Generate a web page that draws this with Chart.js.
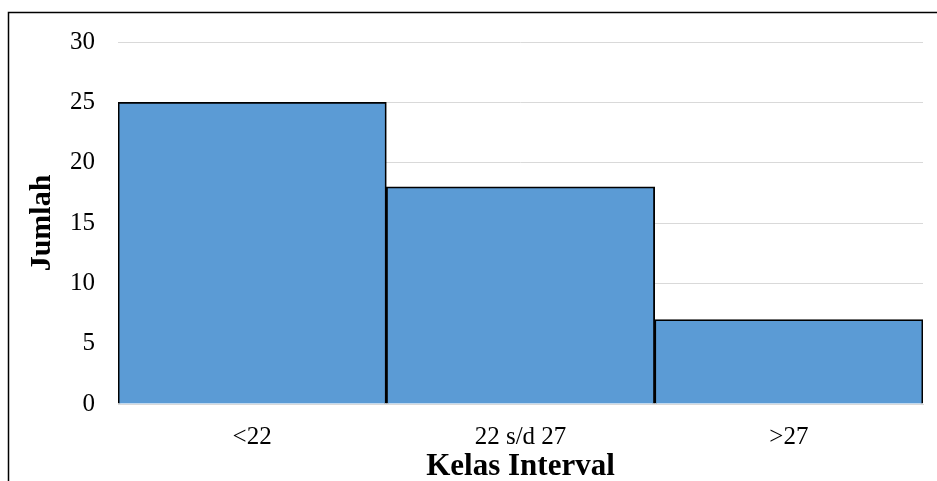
<!DOCTYPE html>
<html>
<head>
<meta charset="utf-8">
<script src="https://cdn.jsdelivr.net/npm/chart.js@4.4.0/dist/chart.umd.min.js"></script>
<style>
  html, body { margin: 0; padding: 0; background: #fff; }
  canvas { display: block; }
</style>
</head>
<body>
<canvas id="chart" width="937" height="481"></canvas>
<script>
// histogram data
const categories = ['<22', '22 s/d 27', '>27'];
const jumlah = [25, 18, 7];
const yTicks = [0, 5, 10, 15, 20, 25, 30];

const serif = '"Liberation Serif", "Times New Roman", serif';

// outer frame (only top and left edges fall inside the picture)
const framePlugin = {
  id: 'frame',
  afterDraw(chart) {
    const ctx = chart.ctx;
    ctx.save();
    ctx.strokeStyle = '#000';
    ctx.lineWidth = 1.5;
    ctx.strokeRect(8.5, 12.5, 1200, 1200);
    ctx.restore();
  }
};

new Chart(document.getElementById('chart'), {
  type: 'bar',
  data: {
    labels: categories,
    datasets: [{
      data: jumlah,
      backgroundColor: '#5b9bd5',
      borderColor: '#000',
      borderWidth: { top: 1.8, left: 1.8, right: 1.8, bottom: 0 },
      borderSkipped: false,
      categoryPercentage: 1,
      barPercentage: 1
    }]
  },
  options: {
    responsive: false,
    animation: false,
    layout: { padding: { left: 0, right: 14, top: 42, bottom: 0 } },
    plugins: { legend: { display: false }, tooltip: { enabled: false } },
    scales: {
      x: {
        grid: { display: false },
        border: { display: true, color: '#d9d9d9', width: 1 },
        ticks: { color: '#000', padding: 10, font: { family: serif, size: 25 } },
        title: {
          display: true, text: 'Kelas Interval', color: '#000',
          font: { family: serif, size: 31, weight: 'bold', lineHeight: 0.9 },
          padding: { top: 0, bottom: 0 }
        },
        afterFit(scale) { scale.height = 77; }
      },
      y: {
        min: 0, max: 30,
        afterBuildTicks(scale) { scale.ticks = yTicks.map(v => ({ value: v })); },
        grid: { color: '#d9d9d9', lineWidth: 1, drawTicks: false },
        border: { display: false },
        ticks: { color: '#000', padding: 23, font: { family: serif, size: 25 } },
        title: {
          display: true, text: 'Jumlah', color: '#000',
          font: { family: serif, size: 30, weight: 'bold', lineHeight: 1.2 },
          padding: { top: 24, bottom: 0 }
        },
        afterFit(scale) { scale.width = 118; }
      }
    }
  },
  plugins: [framePlugin]
});
</script>
</body>
</html>
